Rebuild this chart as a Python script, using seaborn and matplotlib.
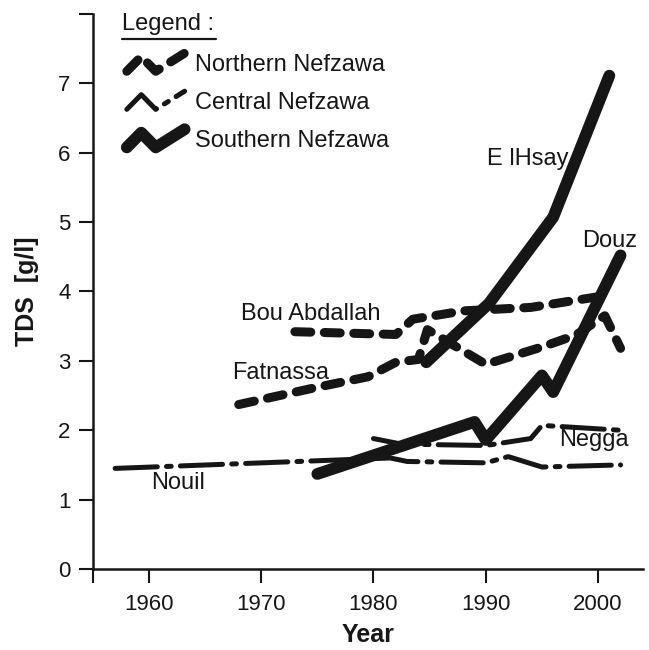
import numpy as np
import pandas as pd
import matplotlib
matplotlib.use("Agg")
import matplotlib.pyplot as plt
import seaborn as sns
from matplotlib.lines import Line2D
from matplotlib.legend_handler import HandlerBase

# ---------------- data ----------------
sites = ["Bou Abdallah", "Fatnassa", "Nouil", "Negga", "E lHsay", "Douz"]
site_regions = ["Northern", "Northern", "Central", "Central", "Southern", "Southern"]

bou_years = [1973, 1982, 1983.5, 1988, 1994, 2001]
bou_tds = [3.42, 3.38, 3.60, 3.72, 3.77, 3.95]
fat_years = [1968, 1975, 1979.5, 1982, 1984, 1984.8, 1990, 1995, 1998, 2000.6, 2002]
fat_tds = [2.37, 2.62, 2.77, 2.98, 3.02, 3.45, 2.95, 3.20, 3.37, 3.65, 3.18]
nouil_years = [1957, 1981.5, 1983, 1990, 1992, 1995, 2002]
nouil_tds = [1.45, 1.60, 1.55, 1.53, 1.62, 1.47, 1.50]
negga_years = [1980, 1982.5, 1990, 1994, 1995, 2002]
negga_tds = [1.88, 1.80, 1.78, 1.88, 2.07, 2.00]
elhsay_years = [1984.7, 1990.3, 1996, 2001]
elhsay_tds = [2.98, 3.83, 5.07, 7.11]
douz_years = [1975, 1989, 1990, 1995, 1996, 2002]
douz_tds = [1.37, 2.12, 1.86, 2.79, 2.55, 4.52]

series_years = [bou_years, fat_years, nouil_years, negga_years, elhsay_years, douz_years]
series_tds = [bou_tds, fat_tds, nouil_tds, negga_tds, elhsay_tds, douz_tds]

legend_title = "Legend :"
legend_regions = ["Northern", "Central", "Southern"]
legend_labels = ["Northern Nefzawa", "Central Nefzawa", "Southern Nefzawa"]

x_ticks = [1955, 1960, 1970, 1980, 1990, 2000]
x_tick_labels = ["", "1960", "1970", "1980", "1990", "2000"]
y_ticks = [0, 1, 2, 3, 4, 5, 6, 7, 8]
y_tick_labels = ["0", "1", "2", "3", "4", "5", "6", "7", ""]

# label anchor positions (data coordinates, centre of text)
label_pos = {
    "Bou Abdallah": (1974.4, 3.68),
    "Fatnassa": (1971.7, 2.83),
    "E lHsay": (1993.7, 5.91),
    "Douz": (2001.0, 4.73),
    "Negga": (1999.6, 1.86),
    "Nouil": (1962.6, 1.24),
}

# ---------------- styles ----------------
INK = "#161616"
lw_map = {"Northern": 6.5, "Central": 3.6, "Southern": 8.5}
dash_map = {"Northern": (11.5, 9.7), "Central": (30.4, 6.6, 3.4, 6.6), "Southern": ""}

sns.set_theme(style="ticks")
plt.rcParams.update({
    "font.family": ["Liberation Sans", "DejaVu Sans"],
    "lines.scale_dashes": False,
    "lines.dash_capstyle": "round",
    "lines.solid_capstyle": "round",
    "lines.dash_joinstyle": "round",
    "lines.solid_joinstyle": "round",
    "axes.edgecolor": INK,
    "axes.linewidth": 1.8,
    "xtick.color": INK,
    "ytick.color": INK,
    "text.color": INK,
    "axes.labelcolor": INK,
})

frames = []
for name, reg, yrs, vals in zip(sites, site_regions, series_years, series_tds):
    frames.append(pd.DataFrame({"Year": yrs, "TDS": vals, "site": name, "region": reg}))
df = pd.concat(frames, ignore_index=True)

fig = plt.figure(figsize=(6.49, 6.5), dpi=100)
ax = fig.add_axes([0.1428, 0.1246, 0.8480, 0.8540])

sns.lineplot(data=df, x="Year", y="TDS", units="site", estimator=None,
             style="region", size="region", dashes=dash_map, sizes=lw_map,
             color=INK, legend=False, ax=ax)
for ln in ax.lines:
    ln.set_dash_capstyle("round")
    ln.set_solid_capstyle("round")
    ln.set_dash_joinstyle("round")
    ln.set_solid_joinstyle("round")

ax.set_xlim(1955, 2004)
ax.set_ylim(0, 8)
ax.set_xticks(x_ticks)
ax.set_xticklabels(x_tick_labels)
ax.set_yticks(y_ticks)
ax.set_yticklabels(y_tick_labels)
ax.tick_params(axis="both", direction="out", length=10, width=1.5, labelsize=16)
ax.tick_params(axis="x", pad=8)
ax.tick_params(axis="y", pad=6)
sns.despine(ax=ax)

ax.set_xlabel("Year", fontsize=18, fontweight="bold", labelpad=6)
ax.set_ylabel("TDS  [g/l]", fontsize=18, fontweight="bold", labelpad=14)

for name, (lx, ly) in label_pos.items():
    ax.text(lx, ly, name, fontsize=17, ha="center", va="center", color=INK)


class ZigZagHandler(HandlerBase):
    def create_artists(self, legend, orig_handle, xdescent, ydescent,
                       width, height, fontsize, trans):
        fx = np.array([0.0, 0.25, 0.5, 1.0])
        fy = np.array([0.0, 0.85, 0.0, 1.05])
        line = Line2D(fx * width - xdescent, fy * height - ydescent)
        self.update_prop(line, orig_handle, legend)
        line.set_transform(trans)
        return [line]


handles = []
for reg in legend_regions:
    d = dash_map[reg]
    h = Line2D([], [], color=INK, lw=lw_map[reg],
               linestyle="-" if d == "" else (0, d),
               dash_capstyle="round", solid_capstyle="round",
               dash_joinstyle="round", solid_joinstyle="round")
    handles.append(h)

zz = ZigZagHandler()
leg = ax.legend(handles, legend_labels, loc="upper left",
                bbox_to_anchor=(0.062, 0.928), frameon=False, fontsize=17,
                handlelength=2.45, handleheight=0.75,
                handletextpad=0.45, labelspacing=0.68, borderpad=0,
                borderaxespad=0, handler_map={h: zz for h in handles})

title = ax.text(0.053, 0.971, legend_title, transform=ax.transAxes,
                ha="left", va="baseline", fontsize=17, color=INK)

fig.canvas.draw()
renderer = fig.canvas.get_renderer()
tb = title.get_window_extent(renderer)
inv = fig.transFigure.inverted()
(x0, y0), (x1, _) = inv.transform([(tb.x0, tb.y0 - 4), (tb.x1 + 2, tb.y0)])
fig.add_artist(Line2D([x0, x1], [y0, y0], transform=fig.transFigure,
                      color=INK, lw=1.6))

fig.savefig("out.png", dpi=100)
